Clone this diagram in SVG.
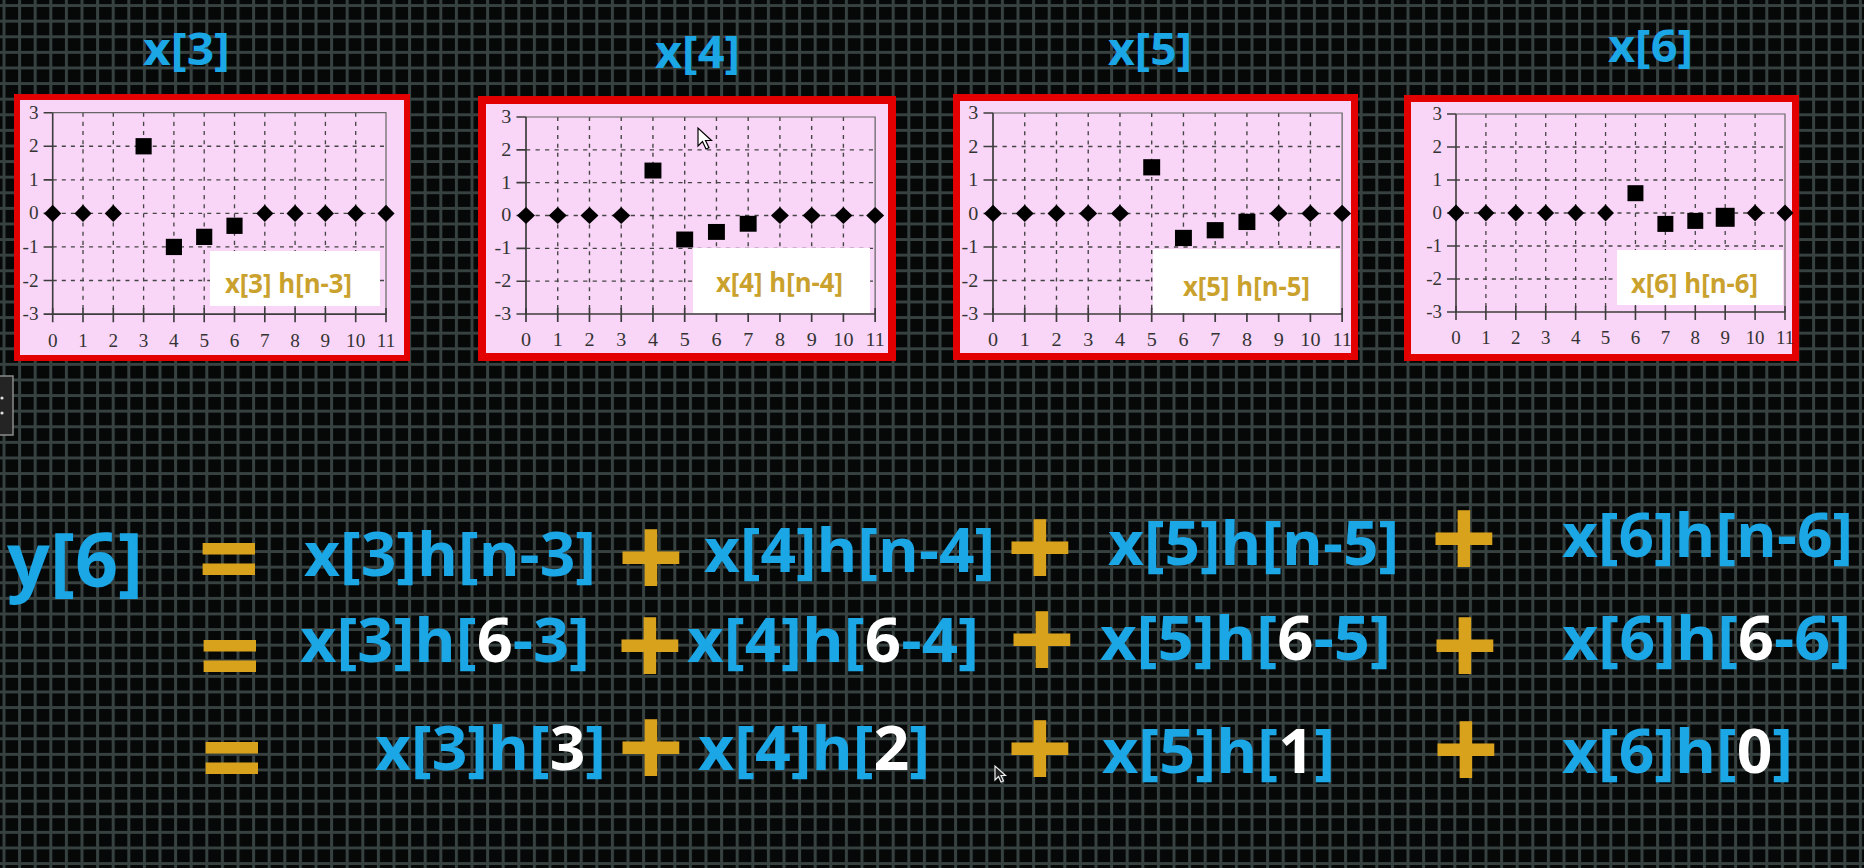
<svg xmlns="http://www.w3.org/2000/svg" xmlns:xlink="http://www.w3.org/1999/xlink" width="1864" height="868" viewBox="0 0 1864 868">
<style>
.dash{fill:none;stroke:#444;stroke-width:1.3;stroke-dasharray:4 5}
.frame{fill:none;stroke:#666;stroke-width:1.2}
.axis{fill:none;stroke:#3c3c3c;stroke-width:1.6}
.tk{font-family:"Liberation Serif","Times New Roman",serif;font-size:19px;fill:#333}
.yl{text-anchor:end}
.xl{text-anchor:middle}
.panel{fill:#f9d6f7;stroke:#e30000}
.lbox{fill:#ffffff}
.ltxt{font-family:"Open Sans","Liberation Sans",sans-serif;font-weight:700;font-size:26px;fill:#c9a12c}
.title{font-family:"Open Sans","Liberation Sans",sans-serif;font-weight:700;font-size:45px;fill:#1ba6e6}
.eq{font-family:"Open Sans","Liberation Sans",sans-serif;font-weight:700;font-size:61px;fill:#1ba6e6}
.w{fill:#ffffff}
.op{font-family:"Open Sans","Liberation Sans",sans-serif;font-weight:700;fill:#d9a21c;text-anchor:middle}
.mk{fill:#000}
.cur{fill:#fff;stroke:#000;stroke-width:1.2}
</style>
<defs>
<pattern id="grid" width="15.6" height="15.6" patternUnits="userSpaceOnUse" x="2.5" y="4.1">
<rect width="15.6" height="15.6" fill="#060808"/>
<path d="M0 1.5H15.6M1.5 0V15.6" stroke="#364140" stroke-width="3"/>
</pattern>
<polygon id="dm" points="0,-8.5 8.5,0 0,8.5 -8.5,0"/>
<rect id="sq" x="-8" y="-8" width="16" height="16"/>
<g id="axes">
<path class="dash" d="M0 33H330M0 66H330M0 99H330M0 132H330M0 165H330M30 0V198M60 0V198M90 0V198M120 0V198M150 0V198M180 0V198M210 0V198M240 0V198M270 0V198M300 0V198"/>
<path class="frame" d="M0 0H330V198"/>
<path class="axis" d="M0 0V198H330"/>
<path class="axis" d="M-9 0H0M-9 33H0M-9 66H0M-9 99H0M-9 132H0M-9 165H0M-9 198H0"/>
<path class="axis" d="M0 192V206M30 192V206M60 192V206M90 192V206M120 192V206M150 192V206M180 192V206M210 192V206M240 192V206M270 192V206M300 192V206M330 192V206"/>
<g class="tk yl">
<text x="-14" y="6">3</text><text x="-14" y="39">2</text><text x="-14" y="72">1</text><text x="-14" y="105">0</text><text x="-14" y="138">-1</text><text x="-14" y="171">-2</text><text x="-14" y="204">-3</text>
</g>
<g class="tk xl">
<text x="0" y="230">0</text><text x="30" y="230">1</text><text x="60" y="230">2</text><text x="90" y="230">3</text><text x="120" y="230">4</text><text x="150" y="230">5</text><text x="180" y="230">6</text><text x="210" y="230">7</text><text x="240" y="230">8</text><text x="270" y="230">9</text><text x="300" y="230">10</text><text x="330" y="230">11</text>
</g>
</g>
</defs>

<rect width="1864" height="868" fill="url(#grid)"/>

<g id="side-tab">
<rect x="-1" y="376" width="14" height="59" fill="#242424" stroke="#8a8a8a" stroke-width="1.5"/>
<circle cx="2" cy="398" r="1.6" fill="#ddd"/>
<circle cx="2" cy="413" r="1.6" fill="#ddd"/>
</g>

<g id="chart-x3">
<text class="title" x="143" y="65" textLength="87" lengthAdjust="spacingAndGlyphs">x[3]</text>
<rect class="panel" x="17" y="97" width="390" height="261" stroke-width="6"/>
<g transform="translate(52.7,112.7) scale(1.010,1.017)">
<use xlink:href="#axes" href="#axes"/>
<g class="mk">
<use href="#dm" x="0" y="99"/><use href="#dm" x="30" y="99"/><use href="#dm" x="60" y="99"/>
<use href="#dm" x="210" y="99"/><use href="#dm" x="240" y="99"/><use href="#dm" x="270" y="99"/><use href="#dm" x="300" y="99"/><use href="#dm" x="330" y="99"/>
<use href="#sq" x="90" y="33"/><use href="#sq" x="120" y="132"/><use href="#sq" x="150" y="122.1"/><use href="#sq" x="180" y="111.2"/>
</g>
</g>
<rect class="lbox" x="210" y="251" width="170" height="55"/>
<text class="ltxt" x="225" y="293" textLength="127" lengthAdjust="spacingAndGlyphs">x[3] h[n-3]</text>
</g>

<g id="chart-x4">
<text class="title" x="655" y="68" textLength="85" lengthAdjust="spacingAndGlyphs">x[4]</text>
<rect class="panel" x="482" y="100" width="410" height="257" stroke-width="8"/>
<g transform="translate(526,117) scale(1.058,0.995)">
<use href="#axes"/>
<g class="mk">
<use href="#dm" x="0" y="99"/><use href="#dm" x="30" y="99"/><use href="#dm" x="60" y="99"/><use href="#dm" x="90" y="99"/>
<use href="#dm" x="240" y="99"/><use href="#dm" x="270" y="99"/><use href="#dm" x="300" y="99"/><use href="#dm" x="330" y="99"/>
<use href="#sq" x="120" y="53.8"/><use href="#sq" x="150" y="123.1"/><use href="#sq" x="180" y="115.5"/><use href="#sq" x="210" y="107.3"/>
</g>
</g>
<rect class="lbox" x="693" y="248" width="177" height="65"/>
<text class="ltxt" x="716" y="292" textLength="127" lengthAdjust="spacingAndGlyphs">x[4] h[n-4]</text>
</g>

<g id="chart-x5">
<text class="title" x="1108" y="65" textLength="84" lengthAdjust="spacingAndGlyphs">x[5]</text>
<rect class="panel" x="956.5" y="97.5" width="398" height="259" stroke-width="7"/>
<g transform="translate(993,113) scale(1.058,1.015)">
<use href="#axes"/>
<g class="mk">
<use href="#dm" x="0" y="99"/><use href="#dm" x="30" y="99"/><use href="#dm" x="60" y="99"/><use href="#dm" x="90" y="99"/><use href="#dm" x="120" y="99"/>
<use href="#dm" x="270" y="99"/><use href="#dm" x="300" y="99"/><use href="#dm" x="330" y="99"/>
<use href="#sq" x="150" y="53.5"/><use href="#sq" x="180" y="123.1"/><use href="#sq" x="210" y="115.5"/><use href="#sq" x="240" y="107.3"/>
</g>
</g>
<rect class="lbox" x="1153" y="249" width="187" height="64"/>
<text class="ltxt" x="1183" y="296" textLength="127" lengthAdjust="spacingAndGlyphs">x[5] h[n-5]</text>
</g>

<g id="chart-x6">
<text class="title" x="1608" y="62" textLength="85" lengthAdjust="spacingAndGlyphs">x[6]</text>
<rect class="panel" x="1407.5" y="98.5" width="388" height="259" stroke-width="7"/>
<g transform="translate(1456,114) scale(0.997,1.0)">
<use href="#axes"/>
<g class="mk">
<use href="#dm" x="0" y="99"/><use href="#dm" x="30" y="99"/><use href="#dm" x="60" y="99"/><use href="#dm" x="90" y="99"/><use href="#dm" x="120" y="99"/><use href="#dm" x="150" y="99"/>
<use href="#dm" x="300" y="99"/><use href="#dm" x="330" y="99"/>
<use href="#sq" x="180" y="79.2"/><use href="#sq" x="210" y="109.9"/><use href="#sq" x="240" y="106.9"/>
<rect x="260.5" y="93.8" width="19" height="19"/>
</g>
</g>
<rect class="lbox" x="1617" y="250" width="166" height="55"/>
<text class="ltxt" x="1631" y="293" textLength="127" lengthAdjust="spacingAndGlyphs">x[6] h[n-6]</text>
</g>

<g id="equations">
<text class="eq" x="7" y="587" style="font-size:76px" textLength="136" lengthAdjust="spacingAndGlyphs">y[6]</text>

<g id="row1">
<text class="op" x="229" y="597" style="font-size:108px">=</text>
<text class="eq" x="304" y="576" textLength="292" lengthAdjust="spacingAndGlyphs">x[3]h[n-3]</text>
<text class="op" x="651" y="599" style="font-size:117px">+</text>
<text class="eq" x="704" y="572" textLength="291" lengthAdjust="spacingAndGlyphs">x[4]h[n-4]</text>
<text class="op" x="1040" y="589" style="font-size:117px">+</text>
<text class="eq" x="1108" y="565" textLength="291" lengthAdjust="spacingAndGlyphs">x[5]h[n-5]</text>
<text class="op" x="1464" y="580" style="font-size:117px">+</text>
<text class="eq" x="1562" y="557" textLength="291" lengthAdjust="spacingAndGlyphs">x[6]h[n-6]</text>
</g>

<g id="row2">
<text class="op" x="230" y="694" style="font-size:108px">=</text>
<text class="eq" x="300" y="662" textLength="290" lengthAdjust="spacingAndGlyphs">x[3]h[<tspan class="w">6</tspan>-3]</text>
<text class="op" x="650" y="687" style="font-size:117px">+</text>
<text class="eq" x="687" y="662" textLength="292" lengthAdjust="spacingAndGlyphs">x[4]h[<tspan class="w">6</tspan>-4]</text>
<text class="op" x="1042" y="681" style="font-size:117px">+</text>
<text class="eq" x="1100" y="660" textLength="291" lengthAdjust="spacingAndGlyphs">x[5]h[<tspan class="w">6</tspan>-5]</text>
<text class="op" x="1465" y="687" style="font-size:117px">+</text>
<text class="eq" x="1562" y="660" textLength="289" lengthAdjust="spacingAndGlyphs">x[6]h[<tspan class="w">6</tspan>-6]</text>
</g>

<g id="row3">
<text class="op" x="232" y="796" style="font-size:108px">=</text>
<text class="eq" x="375" y="770" textLength="231" lengthAdjust="spacingAndGlyphs">x[3]h[<tspan class="w">3</tspan>]</text>
<text class="op" x="651" y="789" style="font-size:117px">+</text>
<text class="eq" x="698" y="770" textLength="232" lengthAdjust="spacingAndGlyphs">x[4]h[<tspan class="w">2</tspan>]</text>
<text class="op" x="1040" y="790" style="font-size:117px">+</text>
<text class="eq" x="1102" y="773" textLength="233" lengthAdjust="spacingAndGlyphs">x[5]h[<tspan class="w">1</tspan>]</text>
<text class="op" x="1466" y="791" style="font-size:117px">+</text>
<text class="eq" x="1562" y="773" textLength="231" lengthAdjust="spacingAndGlyphs">x[6]h[<tspan class="w">0</tspan>]</text>
</g>
</g>

<g id="cursors">
<path class="cur" d="M698 128V146L702.5 141.5L706 149L709 147.7L705.5 140.5L711.5 140.5Z"/>
<path class="cur" d="M995 766V780L998.5 776.5L1001 782L1003.5 781L1001 775.5L1005.5 775.5Z" style="fill:#222;stroke:#eee"/>
</g>
</svg>
